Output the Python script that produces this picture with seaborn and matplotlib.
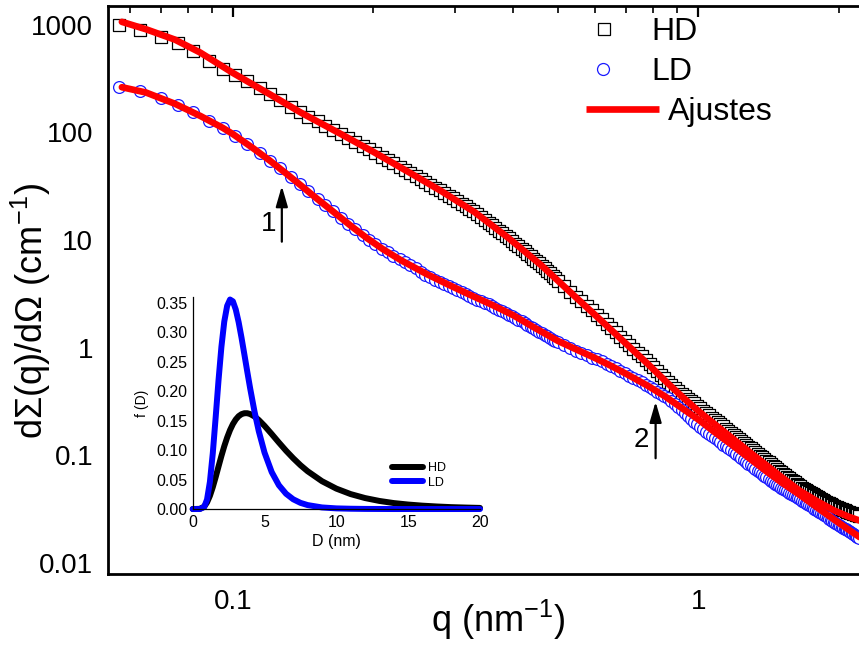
import numpy as np
import matplotlib
matplotlib.use("Agg")
import matplotlib.pyplot as plt
import seaborn as sns
from matplotlib.lines import Line2D
from matplotlib.ticker import LogLocator, NullFormatter, MultipleLocator

# ---------------- data ----------------
q_data = [0.057, 0.063, 0.070, 0.076, 0.082, 0.089, 0.095, 0.101, 0.107, 0.114, 0.120, 0.126,
          0.133, 0.139, 0.145, 0.152, 0.158, 0.164, 0.171, 0.177, 0.183, 0.190, 0.196,
          0.202, 0.209, 0.215, 0.221, 0.228, 0.234, 0.240, 0.247, 0.253, 0.259, 0.265, 0.272,
          0.278, 0.284, 0.291, 0.297, 0.303, 0.310, 0.316, 0.322, 0.328, 0.335, 0.341, 0.347,
          0.354, 0.360, 0.366, 0.373, 0.379, 0.385, 0.391, 0.398, 0.404, 0.410, 0.417, 0.423,
          0.429, 0.436, 0.442, 0.448, 0.454, 0.461, 0.467, 0.473, 0.480, 0.486, 0.492, 0.499,
          0.515, 0.53, 0.545, 0.56, 0.575, 0.59, 0.605, 0.62, 0.635, 0.65, 0.665, 0.68, 0.695, 0.71,
          0.725, 0.74, 0.755, 0.77, 0.785, 0.80, 0.815, 0.83, 0.845, 0.86, 0.875, 0.89, 0.905, 0.92,
          0.935, 0.95, 0.965, 0.98, 0.995, 1.01, 1.025, 1.04, 1.055, 1.07, 1.085, 1.10, 1.115, 1.13,
          1.145, 1.16, 1.175, 1.19, 1.205, 1.22, 1.235, 1.25, 1.265, 1.28, 1.295, 1.31, 1.325, 1.34,
          1.355, 1.37, 1.385, 1.40, 1.415, 1.43, 1.445, 1.46, 1.475, 1.49, 1.505, 1.52, 1.535, 1.55,
          1.565, 1.58, 1.595, 1.61, 1.625, 1.64, 1.655, 1.67, 1.685, 1.70, 1.715, 1.73, 1.745, 1.76,
          1.775, 1.79, 1.805, 1.82, 1.835, 1.85, 1.865, 1.88, 1.895, 1.91, 1.925, 1.94, 1.955, 1.97,
          1.985, 2.00, 2.015, 2.03, 2.045, 2.06, 2.075, 2.09, 2.105, 2.12, 2.135, 2.15, 2.165, 2.18,
          2.195, 2.21]

hd_data = [995, 896, 767, 669, 566, 462, 387, 338, 297, 256, 225, 199,
           173, 155, 140, 126, 115, 105.5, 95.7, 88.2, 81.5, 74.5, 69.2,
           64.2, 59.2, 55.2, 51.5, 48.0, 44.7, 41.8, 39.1, 36.8, 34.7, 32.6, 30.7,
           29.0, 27.4, 25.8, 24.3, 22.9, 21.6, 20.5, 19.5, 18.4, 17.3, 16.3, 15.4,
           14.5, 13.7, 12.9, 12.2, 11.56, 10.96, 10.34, 9.76, 9.25, 8.77, 8.29, 7.84,
           7.42, 7.03, 6.70, 6.38, 6.06, 5.75, 5.46, 5.19, 4.92, 4.66, 4.42, 4.19,
           3.71, 3.29, 2.975, 2.69, 2.449, 2.23, 2.020, 1.83, 1.668, 1.52, 1.384, 1.26, 1.158, 1.064,
           0.9786, 0.90, 0.8308, 0.767, 0.7088, 0.655, 0.6062, 0.561, 0.5211, 0.484, 0.4519, 0.422, 0.3967, 0.373,
           0.354, 0.336, 0.3196, 0.304, 0.2886, 0.274, 0.2604, 0.2475, 0.2355, 0.224, 0.2135, 0.2035, 0.1943, 0.1855,
           0.1773, 0.1694, 0.1621, 0.1551, 0.1486, 0.1424, 0.1366, 0.131, 0.1257, 0.1207, 0.116, 0.1115, 0.1073, 0.1033,
           0.0995, 0.0959, 0.0924, 0.0891, 0.0859, 0.0829, 0.080, 0.0772, 0.0746, 0.072, 0.0697, 0.0674, 0.0653, 0.0633,
           0.0614, 0.0595, 0.0577, 0.056, 0.0543, 0.0527, 0.0514, 0.0501, 0.049, 0.0479, 0.0468, 0.0457, 0.0447, 0.0437,
           0.0428, 0.0419, 0.041, 0.0402, 0.0394, 0.0386, 0.0379, 0.0372, 0.0365, 0.0358, 0.0351, 0.0345, 0.034, 0.0335,
           0.033, 0.0325, 0.032, 0.0316, 0.0312, 0.0308, 0.0304, 0.030, 0.0296, 0.0293, 0.0289, 0.0286, 0.0283, 0.0281,
           0.0278, 0.0275]

ld_data = [265, 241, 206.6, 179, 153, 127.7, 110, 93.2, 78.3, 64.2, 54.5, 46.2,
           38.3, 32.8, 28.2, 23.9, 20.9, 18.4, 15.9, 14.1, 12.6, 11.1, 10.1,
           9.17, 8.32, 7.72, 7.17, 6.67, 6.2, 5.82, 5.46, 5.09, 4.74, 4.50, 4.28,
           4.09, 3.90, 3.73, 3.56, 3.41, 3.26, 3.14, 3.02, 2.90, 2.79, 2.70, 2.61,
           2.52, 2.43, 2.34, 2.25, 2.17, 2.10, 2.03, 1.96, 1.89, 1.82, 1.75, 1.68,
           1.62, 1.56, 1.51, 1.46, 1.41, 1.36, 1.32, 1.28, 1.23, 1.19, 1.15, 1.12,
           1.055, 0.993, 0.9396, 0.889, 0.8486, 0.810, 0.7773, 0.746, 0.7096, 0.675, 0.6412, 0.609, 0.5793, 0.551,
           0.5244, 0.499, 0.476, 0.454, 0.432, 0.411, 0.3915, 0.373, 0.3551, 0.338, 0.3179, 0.299, 0.2799, 0.262,
           0.246, 0.231, 0.2181, 0.206, 0.1942, 0.183, 0.1743, 0.166, 0.1583, 0.151, 0.1444, 0.138, 0.1319, 0.126,
           0.1209, 0.116, 0.1114, 0.107, 0.1027, 0.0985, 0.0946, 0.0909, 0.0874, 0.084, 0.0808, 0.0778, 0.0749, 0.0722,
           0.0696, 0.0671, 0.0648, 0.0625, 0.0604, 0.0584, 0.0565, 0.0547, 0.0532, 0.0518, 0.0503, 0.0488, 0.0476, 0.0465,
           0.0452, 0.044, 0.043, 0.0421, 0.0412, 0.0403, 0.0392, 0.0381, 0.0372, 0.0364, 0.0354, 0.0345, 0.0337, 0.033,
           0.0321, 0.0313, 0.0307, 0.0301, 0.0293, 0.0286, 0.0279, 0.0272, 0.0265, 0.0259, 0.0253, 0.0247, 0.0242, 0.0238,
           0.0233, 0.0228, 0.0223, 0.0218, 0.0213, 0.0208, 0.0205, 0.0202, 0.0197, 0.0193, 0.0189, 0.0185, 0.0181, 0.0178,
           0.0174, 0.0171]

q_fit_hd = [0.0577, 0.065, 0.075, 0.085, 0.1, 0.12, 0.14, 0.17, 0.2, 0.24, 0.28, 0.33, 0.39, 0.46,
            0.54, 0.61, 0.66, 0.72, 0.78, 0.86, 0.93, 1.0, 1.1, 1.2, 1.3, 1.4, 1.5, 1.65, 1.8, 1.95, 2.1, 2.22]
hd_fit = [1060, 905, 725, 550, 355, 225, 152, 97, 66, 42, 28.5, 18.2, 10.5, 5.8,
          3.05, 1.88, 1.37, 0.967, 0.70, 0.465, 0.34, 0.258, 0.185, 0.137, 0.104, 0.081, 0.064, 0.047,
          0.0375, 0.031, 0.027, 0.0248]

q_fit_ld = [0.0577, 0.065, 0.075, 0.085, 0.095, 0.1, 0.11, 0.12, 0.13, 0.14, 0.15, 0.165, 0.18, 0.194,
            0.21, 0.23, 0.26, 0.29, 0.32, 0.36, 0.4, 0.44, 0.5, 0.55, 0.6, 0.65, 0.7, 0.78, 0.85, 0.91,
            1.0, 1.08, 1.18, 1.27, 1.4, 1.5, 1.65, 1.77, 1.95, 2.1, 2.22]
ld_fit = [262, 234, 184, 142, 110, 96, 72, 54.5, 41.5, 32, 25, 18, 13.3, 10.4,
          8.2, 6.45, 4.85, 3.85, 3.15, 2.5, 2.0, 1.57, 1.15, 0.95, 0.80, 0.675, 0.57, 0.44, 0.35, 0.285,
          0.215, 0.166, 0.125, 0.098, 0.071, 0.057, 0.043, 0.0345, 0.0256, 0.0205, 0.0174]

D_nm = [0, 0.5, 0.8, 1.0, 1.2, 1.4, 1.6, 1.8, 2.0, 2.2, 2.4, 2.6, 2.8, 3.0, 3.2, 3.4, 3.6, 3.8, 4.0,
        4.3, 4.6, 5.0, 5.5, 6.0, 6.5, 7.0, 7.5, 8.0, 9.0, 10, 11, 12, 13, 14, 15, 16, 17, 18, 19, 20]
f_hd = [0, 0.0003, 0.0041, 0.0112, 0.0224, 0.0371, 0.0541, 0.0722, 0.0900, 0.1066, 0.1213, 0.1339,
        0.1441, 0.1519, 0.1575, 0.1609, 0.1625, 0.1625, 0.1611, 0.157, 0.151, 0.1411, 0.1272, 0.1128,
        0.0989, 0.0861, 0.0744, 0.0641, 0.0472, 0.0346, 0.0253, 0.0186, 0.0137, 0.0101, 0.0076, 0.0057,
        0.0043, 0.0032, 0.0025, 0.0019]
f_ld = [0, 0, 0.0033, 0.0162, 0.0462, 0.0946, 0.1554, 0.2187, 0.275, 0.318, 0.3446, 0.3553, 0.3522,
        0.3383, 0.3168, 0.2905, 0.262, 0.233, 0.2048, 0.1658, 0.1321, 0.0958, 0.0627, 0.0404, 0.0259,
        0.0165, 0.0105, 0.0067, 0.0027, 0.0011, 0.0005, 0.0002, 0.0001, 0, 0, 0, 0, 0, 0, 0]

y_ticks = [0.01, 0.1, 1, 10, 100, 1000]
y_tick_labels = ["0.01", "0.1", "1", "10", "100", "1000"]
x_ticks = [0.1, 1]
x_tick_labels = ["0.1", "1"]
inset_x_ticks = [0, 5, 10, 15, 20]
inset_x_labels = ["0", "5", "10", "15", "20"]
inset_y_ticks = [0.00, 0.05, 0.10, 0.15, 0.20, 0.25, 0.30, 0.35]
inset_y_labels = ["0.00", "0.05", "0.10", "0.15", "0.20", "0.25", "0.30", "0.35"]

# ---------------- style ----------------
sns.set_theme(style="white")
plt.rcParams["font.family"] = ["Liberation Sans", "DejaVu Sans"]
plt.rcParams["mathtext.fontset"] = "custom"
plt.rcParams["mathtext.rm"] = "Liberation Sans"
plt.rcParams["mathtext.it"] = "Liberation Sans:italic"
plt.rcParams["mathtext.default"] = "regular"
for k in ["axes.edgecolor", "xtick.color", "ytick.color", "text.color", "axes.labelcolor"]:
    plt.rcParams[k] = "black"

fig = plt.figure(figsize=(8.59, 6.58), dpi=100)
ax = fig.add_axes([0.1263, 0.1277, 0.8737, 0.8632])
ax.set_xscale("log")
ax.set_yscale("log")

sns.scatterplot(x=q_data, y=hd_data, marker="s", s=70, facecolor="white",
                edgecolor="black", linewidth=0.9, ax=ax, zorder=2)
sns.scatterplot(x=q_data, y=ld_data, marker="o", s=72, facecolor="white",
                edgecolor="#1a1aff", linewidth=0.9, ax=ax, zorder=3)
sns.lineplot(x=q_fit_hd, y=hd_fit, color="#ff0000", linewidth=4.8, sort=False,
             estimator=None, ax=ax, zorder=4)
sns.lineplot(x=q_fit_ld, y=ld_fit, color="#ff0000", linewidth=4.8, sort=False,
             estimator=None, ax=ax, zorder=4)

ax.set_xlim(0.054, 2.213)
ax.set_ylim(0.00792, 1488)
ax.set_xticks(x_ticks, labels=x_tick_labels)
ax.set_yticks(y_ticks, labels=y_tick_labels)
ax.xaxis.set_minor_locator(LogLocator(base=10, subs=np.arange(2, 10), numticks=30))
ax.yaxis.set_minor_locator(LogLocator(base=10, subs=np.arange(2, 10), numticks=30))
ax.xaxis.set_minor_formatter(NullFormatter())
ax.yaxis.set_minor_formatter(NullFormatter())
ax.tick_params(which="both", direction="in", top=True, right=False, labelsize=20, pad=11)
ax.tick_params(which="major", length=8, width=1.6)
ax.tick_params(which="minor", length=4.7, width=1.2)
for s in ["left", "bottom", "top"]:
    ax.spines[s].set_linewidth(2.0)
ax.spines["right"].set_visible(False)

ax.set_xlabel("q (nm$^{-1}$)", fontsize=26)
ax.set_ylabel("d\u03a3(q)/d\u03a9 (cm$^{-1}$)", fontsize=26)
ax.xaxis.set_label_coords(0.519, -0.042)
ax.yaxis.set_label_coords(-0.0745, 0.463)

# arrows and their numbers
arrow_kw = dict(arrowstyle="-|>,head_length=0.62,head_width=0.18", lw=1.6, color="black",
                shrinkA=0, shrinkB=0, mutation_scale=20)
ax.annotate("", xy=(0.1273, 31.7), xytext=(0.1273, 9.64), arrowprops=arrow_kw)
ax.annotate("", xy=(0.809, 0.315), xytext=(0.809, 0.094), arrowprops=arrow_kw)
ax.text(0.119, 14.1, "1", fontsize=20, ha="center", va="center")
ax.text(0.754, 0.139, "2", fontsize=20, ha="center", va="center")

# main legend (drawn by hand to match layout)
fig.add_artist(Line2D([0.7031], [0.9559], transform=fig.transFigure, marker="s", ms=8.4,
                      mfc="white", mec="black", mew=0.9, linestyle="none"))
fig.add_artist(Line2D([0.7020], [0.8951], transform=fig.transFigure, marker="o", ms=8.6,
                      mfc="white", mec="#1a1aff", mew=0.9, linestyle="none"))
fig.add_artist(Line2D([0.6822, 0.7672], [0.8336, 0.8336], transform=fig.transFigure,
                      color="#ff0000", lw=4.8, solid_capstyle="butt"))
fig.text(0.7579, 0.9392, "HD", fontsize=23, ha="left", va="baseline")
fig.text(0.7579, 0.8784, "LD", fontsize=23, ha="left", va="baseline")
fig.text(0.7776, 0.8176, "Ajustes", fontsize=23, ha="left", va="baseline")

# ---------------- inset ----------------
axin = fig.add_axes([0.2243, 0.2264, 0.3345, 0.3226])
axin.patch.set_facecolor("none")
sns.lineplot(x=D_nm, y=f_hd, color="black", linewidth=4.3, sort=False, estimator=None,
             ax=axin, label="HD", clip_on=False)
sns.lineplot(x=D_nm, y=f_ld, color="#0000ff", linewidth=4.3, sort=False, estimator=None,
             ax=axin, label="LD", clip_on=False)
axin.set_xlim(0, 20)
axin.set_ylim(0, 0.36)
axin.set_xticks(inset_x_ticks, labels=inset_x_labels)
axin.set_yticks(inset_y_ticks, labels=inset_y_labels)
axin.xaxis.set_minor_locator(MultipleLocator(2.5))
axin.yaxis.set_minor_locator(MultipleLocator(0.025))
axin.tick_params(which="both", direction="in", labelsize=11.5, pad=4)
axin.tick_params(which="major", length=3, width=0.8)
axin.tick_params(which="minor", length=1.8, width=0.7)
for s in ["top", "right"]:
    axin.spines[s].set_visible(False)
for s in ["left", "bottom"]:
    axin.spines[s].set_linewidth(0.9)
axin.set_xlabel("D (nm)", fontsize=11.5, labelpad=3)
axin.set_ylabel("f (D)", fontsize=10, labelpad=5)
axin.legend(loc="upper left", bbox_to_anchor=(0.694, 0.221), frameon=False, fontsize=9,
            handlelength=2.5, handletextpad=0.4, labelspacing=0.2, borderpad=0, borderaxespad=0)

fig.savefig("out.png", dpi=100)
